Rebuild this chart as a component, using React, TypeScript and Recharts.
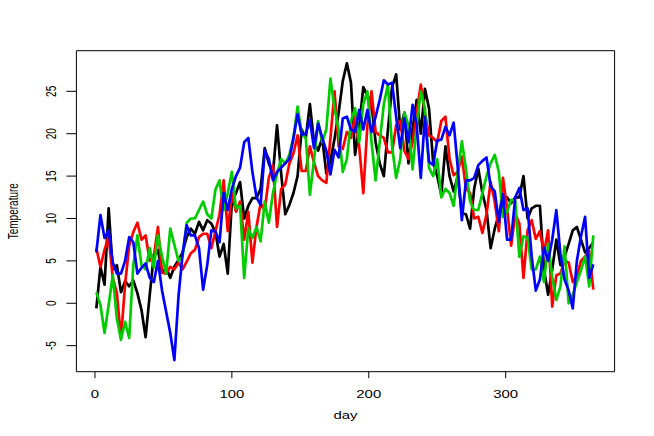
import { LineChart, Line, XAxis, YAxis, ReferenceArea } from "recharts";

// day of year, sampled every 3 days
const days = [
  1, 4, 7, 10, 13, 16, 19, 22, 25, 28,
  31, 34, 37, 40, 43, 46, 49, 52, 55, 58,
  61, 64, 67, 70, 73, 76, 79, 82, 85, 88,
  91, 94, 97, 100, 103, 106, 109, 112, 115, 118,
  121, 124, 127, 130, 133, 136, 139, 142, 145, 148,
  151, 154, 157, 160, 163, 166, 169, 172, 175, 178,
  181, 184, 187, 190, 193, 196, 199, 202, 205, 208,
  211, 214, 217, 220, 223, 226, 229, 232, 235, 238,
  241, 244, 247, 250, 253, 256, 259, 262, 265, 268,
  271, 274, 277, 280, 283, 286, 289, 292, 295, 298,
  301, 304, 307, 310, 313, 316, 319, 322, 325, 328,
  331, 334, 337, 340, 343, 346, 349, 352, 355, 358,
  361, 364,
];

const blackSeries = [
  -0.6, 4.3, 2.2, 11.2, 4.0, 4.5, 1.3, 2.6, 2.0, 2.7,
  1.2, -0.8, -4.0, 1.0, 5.7, 6.3, 3.6, 4.2, 3.0, 4.3,
  5.1, 6.0, 7.8, 8.8, 8.2, 9.6, 8.6, 9.8, 9.4, 8.4,
  5.5, 7.0, 3.5, 12.0, 13.0, 14.3, 10.0, 11.5, 12.4, 12.4,
  13.5, 18.3, 16.5, 15.3, 21.0, 15.3, 10.5, 11.6, 13.0, 15.0,
  20.5, 19.5, 23.5, 19.0, 18.0, 19.5, 15.3, 16.8, 19.4, 22.5,
  26.2, 28.3, 26.0, 17.5, 20.8, 25.5, 24.5, 23.5, 19.0, 16.5,
  15.0, 20.5, 25.5, 27.0, 20.5, 22.5, 16.5, 20.5, 24.0, 20.0,
  25.3, 23.0, 16.7, 15.0, 12.8, 18.5, 15.0, 13.2, 15.0, 10.6,
  10.5, 8.8, 13.5, 15.9, 13.0, 11.0, 6.5, 8.8, 10.5, 12.5,
  12.5, 11.8, 12.5, 12.5, 15.0, 10.0, 11.2, 11.5, 11.5, 4.0,
  1.0, 4.0, 7.5, 4.5, 5.5, 7.0, 8.6, 9.0, 7.5, 6.0,
  6.5, 7.2,
];

const redSeries = [
  6.5, 4.3, 6.3, 7.9, 3.0, 1.2, -4.1, 2.2, 6.8, 8.4,
  9.5, 7.5, 8.0, 5.0, 5.5, 9.0, 3.6, 3.5, 4.3, 4.0,
  4.8, 4.0, 4.9, 5.9, 6.3, 7.8, 8.2, 8.2, 6.5, 8.5,
  10.5, 14.5, 8.5, 13.0, 10.8, 12.0, 7.5, 10.8, 4.8, 9.0,
  11.8, 11.0, 14.8, 16.3, 9.0, 13.5, 14.0, 16.5, 17.7, 19.8,
  15.6, 15.6, 18.5, 16.6, 15.0, 14.5, 14.2, 19.5, 25.0, 18.5,
  18.2, 20.2, 19.5, 22.0, 18.5, 13.0, 21.0, 25.0, 20.2, 19.8,
  19.5, 17.8, 17.8, 21.0, 21.5, 18.0, 17.0, 19.0, 22.5, 25.8,
  22.5, 19.8, 19.5, 19.0, 21.5, 22.0, 17.0, 15.1, 15.5, 17.3,
  13.5, 13.0, 10.0, 10.2, 8.3, 10.5, 14.3, 12.0, 8.5, 14.8,
  11.2, 6.8, 10.5, 9.4, 3.0, 8.6, 9.8, 7.6, 8.5, 6.0,
  8.6, -0.4, 3.3, 3.5, 5.0, 4.8, 2.5, 3.2, 5.0, 5.5,
  6.2, 1.6,
];

const greenSeries = [
  1.3, -0.2, -3.5, -0.2, 3.3, -1.8, -4.3, -2.2, -4.1, 4.5,
  8.0, 4.5, 4.0, 6.5, 4.2, 8.0, 5.5, 3.5, 8.8, 6.9,
  5.0, 5.5, 9.5, 10.0, 10.0, 11.0, 12.0, 10.5, 10.0, 13.4,
  14.5, 11.0, 13.0, 15.5, 11.2, 11.5, 3.0, 8.8, 7.7, 9.0,
  7.3, 12.0, 9.5, 13.0, 15.3, 17.0, 16.5, 17.5, 19.6, 23.2,
  20.0, 19.5, 12.8, 16.9, 21.5, 19.0, 20.5, 26.5, 23.0, 20.5,
  15.5, 17.0, 21.5, 23.0, 19.0, 23.5, 25.0, 19.0, 14.5, 19.0,
  23.5, 25.8, 18.5, 14.8, 17.0, 22.5, 21.0, 15.8, 21.0, 25.0,
  23.0, 16.0, 15.0, 17.0, 12.5, 13.5, 13.0, 11.5, 15.5, 19.1,
  15.8, 12.0, 11.0, 11.0, 13.0, 15.0, 16.5, 17.5, 15.5, 10.2,
  10.8, 12.2, 12.0, 5.5, 7.9, 7.7, 4.0, 4.0, 5.5, 2.5,
  7.0, 3.1, 0.4, 2.0, 6.7, 0.0, 1.0, 2.5, 3.9, 5.5,
  2.0, 8.0,
];

const blueSeries = [
  6.0, 10.4, 7.7, 8.6, 4.8, 3.5, 3.5, 5.0, 7.8, 7.2,
  3.5, 4.2, 4.7, 3.0, 2.5, 5.0, 1.5, -1.0, -3.5, -6.7,
  0.8, 5.8, 9.2, 8.0, 8.0, 6.5, 1.6, 4.5, 8.6, 8.5,
  7.2, 13.0, 11.0, 13.5, 15.0, 16.0, 19.0, 19.5, 15.5, 12.5,
  11.6, 18.0, 17.0, 14.5, 15.5, 16.0, 16.5, 17.0, 19.5, 22.3,
  19.9, 20.0, 21.6, 18.3, 21.2, 19.5, 18.0, 15.2, 18.1, 17.2,
  21.8, 22.0, 20.5, 20.2, 22.8, 20.5, 22.8, 20.2, 22.0, 24.0,
  26.3, 25.8, 26.0, 22.0, 18.3, 21.8, 19.0, 23.4, 21.0, 14.8,
  22.0, 16.7, 16.3, 19.2, 19.3, 20.8, 19.8, 21.3, 16.0, 9.8,
  14.5, 14.5, 14.8, 16.3, 16.8, 17.2, 13.8, 13.2, 9.6, 12.9,
  7.5, 7.5, 12.5, 13.6, 11.0, 11.2, 5.5, 1.5, 2.8, 6.6,
  5.0, 7.5, 11.0, 5.8, 2.8, 1.5, -0.6, 5.0, 7.9, 10.2,
  3.0, 4.6,
];

const xTicks = [0, 100, 200, 300];
const yTicks = [-5, 0, 5, 10, 15, 20, 25];

// R pads the data range by 4% on each side
const xDomain = [-13.56, 379.56];
const yDomain = [-8.07, 29.79];

const FONT = '"Liberation Sans", Arial, Helvetica, sans-serif';
// the source image was resized non-uniformly, so text looks wide and squat
const SX = 1.36;
const SY = 0.91;

const data = days.map((day, i) => ({
  day,
  black: blackSeries[i],
  red: redSeries[i],
  green: greenSeries[i],
  blue: blueSeries[i],
}));

function XTick({ x, y, payload }: any) {
  return (
    <text
      transform={`translate(${x},${y + 16.3}) scale(${SX},${SY})`}
      textAnchor="middle"
      dominantBaseline="central"
      fontSize={11}
      fontFamily={FONT}
      fill="#000"
    >
      {payload.value}
    </text>
  );
}

function YTick({ x, y, payload }: any) {
  return (
    <text
      transform={`translate(${x - 15.7},${y}) scale(${SX},${SY}) rotate(-90)`}
      textAnchor="middle"
      dominantBaseline="central"
      fontSize={11}
      fontFamily={FONT}
      fill="#000"
    >
      {payload.value}
    </text>
  );
}

export default function App() {
  return (
    <div style={{ position: "absolute", left: 0, top: 0, width: 654, height: 436, background: "#fff" }}>
      <LineChart width={654} height={436} data={data} margin={{ top: 50.7, right: 39.4, bottom: 0, left: 0 }}>
        <XAxis
          dataKey="day"
          type="number"
          domain={xDomain}
          ticks={xTicks}
          allowDataOverflow
          axisLine={false}
          tickLine={{ stroke: "#000" }}
          tickSize={6.5}
          tickMargin={0}
          height={64.3}
          tick={<XTick />}
          label={{
            content: ({ viewBox }: any) => (
              <text
                transform={`translate(${viewBox.x + viewBox.width / 2},${viewBox.y + 43.3}) scale(${SX},${SY})`}
                textAnchor="middle"
                dominantBaseline="central"
                fontSize={11}
                fontFamily={FONT}
                fill="#000"
              >
                day
              </text>
            ),
          }}
        />
        <YAxis
          type="number"
          domain={yDomain}
          ticks={yTicks}
          allowDataOverflow
          axisLine={false}
          tickLine={{ stroke: "#000" }}
          tickSize={10}
          tickMargin={0}
          width={76.4}
          tick={<YTick />}
          label={{
            content: ({ viewBox }: any) => (
              <text
                transform={`translate(13,${viewBox.y + viewBox.height / 2}) scale(${SX},${SY}) rotate(-90)`}
                textAnchor="middle"
                dominantBaseline="central"
                fontSize={11}
                fontFamily={FONT}
                fill="#000"
              >
                Temperature
              </text>
            ),
          }}
        />
        <Line type="linear" dataKey="black" stroke="#000000" strokeWidth={2.7} strokeLinejoin="round" dot={false} isAnimationActive={false} />
        <Line type="linear" dataKey="red" stroke="#FF0000" strokeWidth={2.7} strokeLinejoin="round" dot={false} isAnimationActive={false} />
        <Line type="linear" dataKey="green" stroke="#00CD00" strokeWidth={2.7} strokeLinejoin="round" dot={false} isAnimationActive={false} />
        <Line type="linear" dataKey="blue" stroke="#0000FF" strokeWidth={2.7} strokeLinejoin="round" dot={false} isAnimationActive={false} />
        <ReferenceArea
          x1={xDomain[0]}
          x2={xDomain[1]}
          y1={yDomain[0]}
          y2={yDomain[1]}
          fill="none"
          stroke="#000"
          strokeWidth={1}
          ifOverflow="visible"
        />
      </LineChart>
    </div>
  );
}
